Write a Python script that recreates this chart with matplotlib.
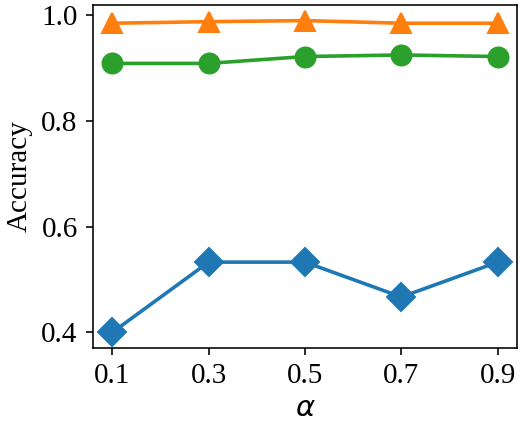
import matplotlib
matplotlib.use("Agg")
import matplotlib.pyplot as plt

alphas = [0.1, 0.3, 0.5, 0.7, 0.9]
acc_blue = [0.400, 0.533, 0.533, 0.467, 0.533]
acc_orange = [0.985, 0.988, 0.990, 0.985, 0.985]
acc_green = [0.909, 0.909, 0.922, 0.925, 0.922]
xtick_labels = ["0.1", "0.3", "0.5", "0.7", "0.9"]
ytick_vals = [0.4, 0.6, 0.8, 1.0]

s = 1.44
plt.rcParams['font.family'] = ['Liberation Serif', 'DejaVu Serif']
plt.rcParams['mathtext.fontset'] = 'dejavusans'
fs = 21

fig = plt.figure(figsize=(5.32, 4.28), dpi=100)
ax = fig.add_axes([93/532, 1-348/428, (517-93)/532, (348-5)/428])

lw = 2.6
ax.plot(alphas, acc_blue, marker='D', color='#1f77b4', lw=lw, ms=10*s, mew=1*s)
ax.plot(alphas, acc_orange, marker='^', color='#ff7f0e', lw=lw, ms=10*s, mew=1*s)
ax.plot(alphas, acc_green, marker='o', color='#2ca02c', lw=lw, ms=10*s, mew=1*s)

ax.set_xticks(alphas)
ax.set_xticklabels(xtick_labels)
ax.set_yticks(ytick_vals)
ax.set_xlabel(r'$\alpha$', fontsize=fs, labelpad=5)
ax.set_ylabel('Accuracy', fontsize=fs, labelpad=6)
for sp in ax.spines.values():
    sp.set_linewidth(0.8*s)
ax.tick_params(width=0.8*s, length=3.5*s, labelsize=fs, pad=6)

fig.savefig('out.png', dpi=100)
